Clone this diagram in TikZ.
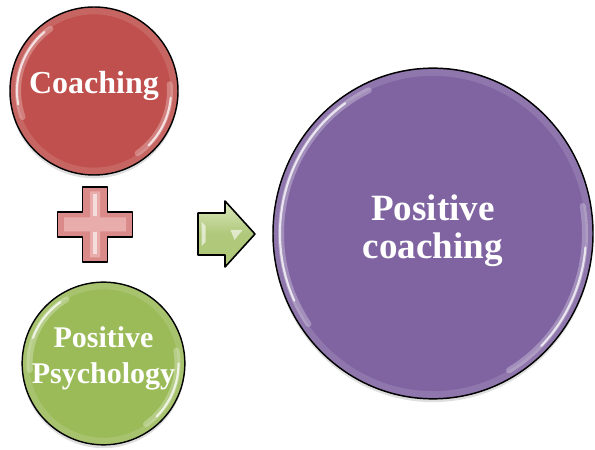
\documentclass[tikz,border=0pt]{standalone}
\usepackage{fontspec}
\setmainfont{Liberation Serif}
\usetikzlibrary{shapes.geometric,shadows,calc}

\definecolor{coachred}{HTML}{C0504D}
\definecolor{psygreen}{HTML}{9BBB59}
\definecolor{resultviolet}{HTML}{8064A2}
\definecolor{plusfill}{HTML}{DA8A88}
\definecolor{pluslight}{HTML}{F2C4C3}
\definecolor{arrowfill}{HTML}{AFC87A}
\definecolor{arrowlight}{HTML}{DCE9BE}

\tikzset{
  ball/.style={draw=black, line width=1.1pt, inner sep=0pt,
    drop shadow={opacity=0.25, shadow xshift=0pt, shadow yshift=-2.5pt}},
  balltext/.style={text=white, font=\bfseries, align=center, inner sep=0pt},
  gloss/.style={white, line cap=round, opacity=0.75, line width=1.6pt},
  softgloss/.style={white, line cap=round, opacity=0.28, line width=4.5pt},
  rim/.style={white, opacity=0.12, line width=5pt},
  symbolshape/.style={draw=black, line width=1.2pt, line join=round},
}

\begin{document}
\begin{tikzpicture}[x=0.75pt, y=0.75pt]
  \useasboundingbox (0,0) rectangle (595,449);

  % the two ingredients and the result
  \node[ball, circle, fill=coachred, minimum size=126pt] (coach) at (94,358) {};
  \node[ball, circle, fill=psygreen, minimum size=122pt] (psy) at (103.5,85.5) {};
  \node[ball, ellipse, fill=resultviolet, minimum width=240pt, minimum height=248pt] (result) at (433,215.5) {};

  % glossy rims and highlights
  \draw[rim] (coach.center) circle[radius=80];
  \draw[rim] (psy.center) circle[radius=77.5];
  \draw[rim] (result.center) ellipse[x radius=156, y radius=161];

  \draw[softgloss] ([shift={(125:76)}]coach.center) arc[start angle=125, end angle=200, radius=76];
  \draw[gloss] ([shift={(130:77)}]coach.center) arc[start angle=130, end angle=190, radius=77];
  \draw[softgloss] ([shift={(-55:76)}]coach.center) arc[start angle=-55, end angle=5, radius=76];
  \draw[gloss] ([shift={(-45:77)}]coach.center) arc[start angle=-45, end angle=-5, radius=77];

  \draw[softgloss] ([shift={(120:74)}]psy.center) arc[start angle=120, end angle=185, radius=74];
  \draw[gloss] ([shift={(125:75)}]psy.center) arc[start angle=125, end angle=160, radius=75];
  \draw[softgloss] ([shift={(-55:74)}]psy.center) arc[start angle=-55, end angle=10, radius=74];
  \draw[gloss] ([shift={(-45:75)}]psy.center) arc[start angle=-45, end angle=0, radius=75];

  \draw[softgloss] ($(result.center)+({152*cos(115)},{158*sin(115)})$)
    arc[start angle=115, end angle=215, x radius=152, y radius=158];
  \draw[gloss] ($(result.center)+({153*cos(125)},{159*sin(125)})$)
    arc[start angle=125, end angle=205, x radius=153, y radius=159];
  \draw[softgloss] ($(result.center)+({152*cos(-60)},{158*sin(-60)})$)
    arc[start angle=-60, end angle=10, x radius=152, y radius=158];
  \draw[gloss] ($(result.center)+({153*cos(-45)},{159*sin(-45)})$)
    arc[start angle=-45, end angle=-5, x radius=153, y radius=159];

  % labels
  \node[balltext, font=\bfseries\fontsize{24}{28}\selectfont] (coachtxt)
    at ([yshift=4pt]coach.center) {Coaching};
  \node[balltext, font=\bfseries\fontsize{22.5}{27}\selectfont] (psytxt)
    at ([yshift=3.8pt]psy.center) {Positive\\Psychology};
  \node[balltext, font=\bfseries\fontsize{27.8}{28.5}\selectfont] (resulttxt)
    at ([yshift=2.3pt]result.center) {Positive\\coaching};

  % plus sign between the two ingredients
  \coordinate (plusc) at (95,224.5);
  \fill[black, opacity=0.2, shift={(0,-2)}] (plusc) ++(-12.5,37.5) -- ++(25,0) -- ++(0,-25) -- ++(25,0)
    -- ++(0,-25) -- ++(-25,0) -- ++(0,-25) -- ++(-25,0) -- ++(0,25) -- ++(-25,0)
    -- ++(0,25) -- ++(25,0) -- cycle;
  \draw[symbolshape, fill=plusfill] (plusc) ++(-12.5,37.5) -- ++(25,0) -- ++(0,-25) -- ++(25,0)
    -- ++(0,-25) -- ++(-25,0) -- ++(0,-25) -- ++(-25,0) -- ++(0,25) -- ++(-25,0)
    -- ++(0,25) -- ++(25,0) -- cycle;
  \fill[pluslight, opacity=0.6] (plusc) ++(-5,33) -- ++(10,0) -- ++(0,-26) -- ++(26,0)
    -- ++(0,-14) -- ++(-26,0) -- ++(0,-26) -- ++(-10,0) -- ++(0,26) -- ++(-26,0)
    -- ++(0,14) -- ++(26,0) -- cycle;
  \fill[white, opacity=0.6] (plusc) ++(-2,30) rectangle ++(4,-22);
  \fill[white, opacity=0.6] (plusc) ++(-2,-8) rectangle ++(4,-22);

  % arrow towards the result
  \coordinate (arrowc) at (226.5,215);
  \fill[black, opacity=0.2, shift={(0,-2)}] (arrowc) ++(-28.5,-21) -- ++(27,0) -- ++(0,-12)
    -- ++(30,33) -- ++(-30,33) -- ++(0,-12) -- ++(-27,0) -- cycle;
  \draw[symbolshape, top color=arrowlight, bottom color=arrowfill, middle color=arrowfill]
    (arrowc) ++(-28.5,-21) -- ++(27,0) -- ++(0,-12)
    -- ++(30,33) -- ++(-30,33) -- ++(0,-12) -- ++(-27,0) -- cycle;
  \fill[white, opacity=0.6] (arrowc) ++(-25,12) -- ++(4,-4) -- ++(0,-16) -- ++(-4,-4) -- cycle;
  \fill[white, opacity=0.6] (arrowc) ++(4,4) -- ++(12,0) -- ++(-8,-10) -- cycle;
\end{tikzpicture}
\end{document}
